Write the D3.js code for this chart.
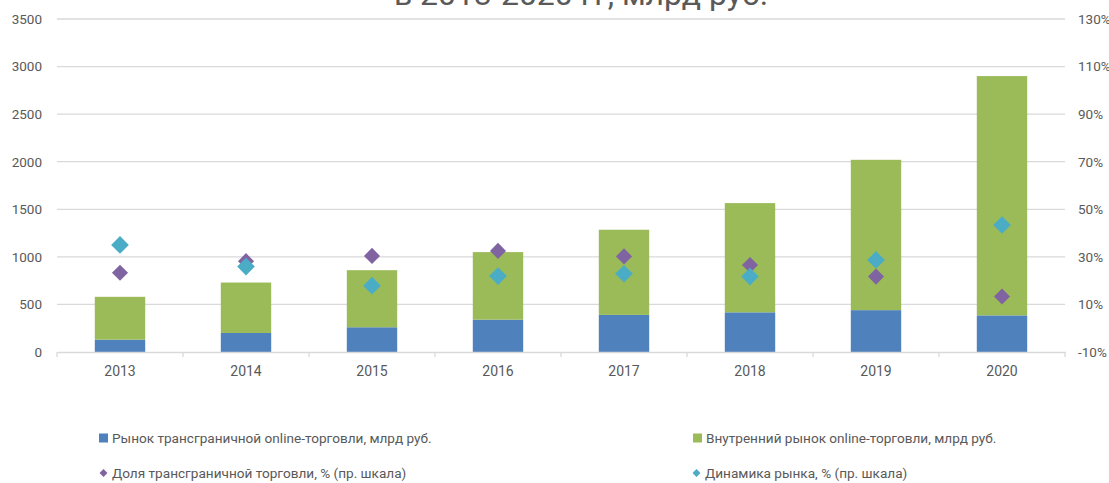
<!DOCTYPE html>
<html>
<head>
<meta charset="utf-8">
<script src="https://cdn.jsdelivr.net/npm/d3@7"></script>
<style>
  body { margin: 0; background: #fff; }
  svg { display: block; font-family: Roboto, "Noto Sans", sans-serif; }
</style>
</head>
<body>
<div id="chart"></div>
<script>
// data
let years = ['2013', '2014', '2015', '2016', '2017', '2018', '2019', '2020'];
let crossBorder = [130, 200, 260, 340, 390, 417, 440, 385];
let domestic = [450, 530, 600, 710, 895, 1148, 1580, 2515];
let crossShare = [23.3, 28.2, 30.4, 32.5, 30.2, 26.6, 21.7, 13.3];
let marketGrowth = [35.0, 25.9, 17.9, 21.9, 22.9, 21.7, 28.7, 43.4];
let leftTicks = [0, 500, 1000, 1500, 2000, 2500, 3000, 3500];
let rightTicks = [-10, 10, 30, 50, 70, 90, 110, 130];
let legendLabels = [
    'Рынок трансграничной online-торговли, млрд руб.',
    'Внутренний рынок online-торговли, млрд руб.',
    'Доля трансграничной торговли, % (пр. шкала)',
    'Динамика рынка, % (пр. шкала)'
];
let titleText = 'в 2013-2020 гг, млрд руб.';

let svgWidth = 1109,
    svgHeight = 483;

let margin = { top: 19, right: 44, bottom: 131, left: 57 };
let chartWidth = svgWidth - margin.left - margin.right;
let chartHeight = svgHeight - margin.top - margin.bottom;

let colors = { blue: '#4f81bd', green: '#9bbb59', purple: '#8064a2', teal: '#4bacc6' };
let textColor = '#595959';
let gridColor = '#d9d9d9';

let svg = d3.select('#chart')
    .append('svg')
    .attr('width', svgWidth)
    .attr('height', svgHeight);

// title (only its lower part is visible)
svg.append('text')
    .attr('x', 581)
    .attr('y', 5)
    .attr('text-anchor', 'middle')
    .attr('font-size', 32)
    .attr('fill', textColor)
    .text(titleText);

let chartGroup = svg.append('g')
    .attr('transform', `translate(${margin.left}, ${margin.top})`);

let xScale = d3.scaleBand()
    .domain(years)
    .range([0, chartWidth])
    .paddingInner(0.6)
    .paddingOuter(0.3);

let yScale = d3.scaleLinear()
    .domain([0, 3500])
    .range([chartHeight, 0]);

let y2Scale = d3.scaleLinear()
    .domain([-10, 130])
    .range([chartHeight, 0]);

// gridlines
chartGroup.append('g')
    .selectAll('line')
    .data(leftTicks.slice(1))
    .join('line')
    .attr('x1', 0)
    .attr('x2', chartWidth)
    .attr('y1', d => yScale(d))
    .attr('y2', d => yScale(d))
    .attr('stroke', gridColor)
    .attr('stroke-width', 1.3);

// left axis
let leftAxis = d3.axisLeft(yScale).tickValues(leftTicks).tickSize(0).tickPadding(15)
    .tickFormat(d3.format('d'));
let gLeft = chartGroup.append('g').call(leftAxis);
gLeft.select('.domain').remove();
gLeft.selectAll('text').attr('fill', textColor).attr('font-size', 13.5).attr('font-family', 'Roboto');

// right axis
let rightAxis = d3.axisRight(y2Scale).tickValues(rightTicks).tickSize(0).tickPadding(13)
    .tickFormat(d => d + '%');
let gRight = chartGroup.append('g')
    .attr('transform', `translate(${chartWidth}, 0)`)
    .call(rightAxis);
gRight.select('.domain').remove();
gRight.selectAll('text').attr('fill', textColor).attr('font-size', 13.5).attr('font-family', 'Roboto');

// stacked bars
let stackData = years.map((y, i) => ({ year: y, cross: crossBorder[i], dom: domestic[i] }));
let series = d3.stack().keys(['cross', 'dom'])(stackData);
let barColors = [colors.blue, colors.green];

chartGroup.append('g')
    .selectAll('g')
    .data(series)
    .join('g')
    .attr('fill', (d, i) => barColors[i])
    .selectAll('rect')
    .data(d => d)
    .join('rect')
    .attr('x', d => xScale(d.data.year))
    .attr('width', xScale.bandwidth())
    .attr('y', d => yScale(d[1]))
    .attr('height', d => yScale(d[0]) - yScale(d[1]));

// bottom axis
let bottomAxis = d3.axisBottom(xScale).tickSize(0).tickPadding(14);
let gBottom = chartGroup.append('g')
    .attr('transform', `translate(0, ${chartHeight})`)
    .call(bottomAxis);
gBottom.select('.domain').attr('stroke', gridColor).attr('stroke-width', 1.3);
gBottom.selectAll('text').attr('fill', textColor).attr('font-size', 14).attr('font-family', 'Roboto');

// tick marks between categories
let step = xScale.step();
gBottom.append('g')
    .selectAll('line')
    .data(d3.range(years.length + 1))
    .join('line')
    .attr('x1', i => i * step)
    .attr('x2', i => i * step)
    .attr('y1', 0)
    .attr('y2', 5)
    .attr('stroke', gridColor)
    .attr('stroke-width', 1.3);

// diamond markers
let diamond = d3.symbol().type(d3.symbolDiamond2);
let cx = y => xScale(y) + xScale.bandwidth() / 2;

chartGroup.append('g')
    .selectAll('path')
    .data(crossShare)
    .join('path')
    .attr('d', diamond.size(165)())
    .attr('transform', (d, i) => `translate(${cx(years[i])}, ${y2Scale(d)})`)
    .attr('fill', colors.purple);

chartGroup.append('g')
    .selectAll('path')
    .data(marketGrowth)
    .join('path')
    .attr('d', diamond.size(200)())
    .attr('transform', (d, i) => `translate(${cx(years[i])}, ${y2Scale(d)})`)
    .attr('fill', colors.teal);

// legend
let legendItems = [
    { label: legendLabels[0], color: colors.blue, shape: 'square', x: 99, y: 438 },
    { label: legendLabels[1], color: colors.green, shape: 'square', x: 693, y: 438 },
    { label: legendLabels[2], color: colors.purple, shape: 'diamond', x: 99, y: 473 },
    { label: legendLabels[3], color: colors.teal, shape: 'diamond', x: 692, y: 473 }
];

let legend = svg.append('g')
    .selectAll('g')
    .data(legendItems)
    .join('g')
    .attr('transform', d => `translate(${d.x}, ${d.y})`);

legend.filter(d => d.shape === 'square')
    .append('rect')
    .attr('x', 0)
    .attr('y', -4.5)
    .attr('width', 9)
    .attr('height', 9)
    .attr('fill', d => d.color);

legend.filter(d => d.shape === 'diamond')
    .append('path')
    .attr('d', d3.symbol().type(d3.symbolDiamond2).size(40)())
    .attr('transform', 'translate(4.5, 0)')
    .attr('fill', d => d.color);

legend.append('text')
    .attr('x', 13)
    .attr('dy', '0.35em')
    .attr('font-size', 13.6)
    .attr('fill', textColor)
    .text(d => d.label);
</script>
</body>
</html>
